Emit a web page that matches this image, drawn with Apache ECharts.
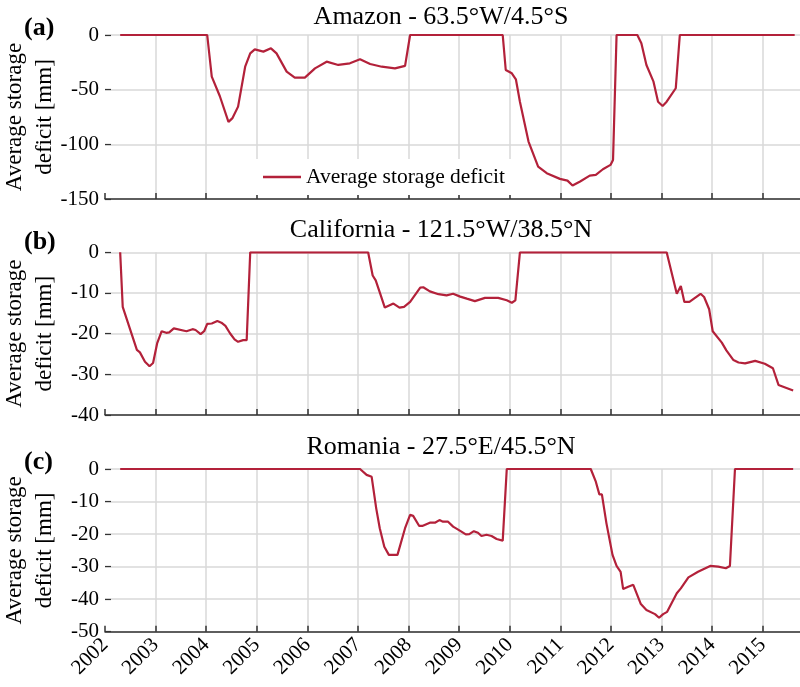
<!DOCTYPE html>
<html><head><meta charset="utf-8">
<script src="https://cdn.jsdelivr.net/npm/echarts/dist/echarts.min.js"></script>
<style>html,body{margin:0;padding:0;background:#fff}#c{width:800px;height:687px}</style>
</head><body><div id="c"></div><script>
// ---- data (decimal years / storage deficit in mm) ----
const yearTicks = [2002,2003,2004,2005,2006,2007,2008,2009,2010,2011,2012,2013,2014,2015];

const amazonTime = [2002.30,2004.02,2004.11,2004.27,2004.44,2004.52,2004.63,2004.77,2004.87,2004.96,
  2005.13,2005.28,2005.39,2005.59,2005.75,2005.95,2006.15,2006.38,2006.61,2006.84,
  2007.04,2007.24,2007.47,2007.73,2007.93,2008.03,2009.86,2009.92,2010.04,2010.12,
  2010.20,2010.37,2010.56,2010.73,2010.99,2011.14,2011.24,2011.39,2011.58,2011.70,
  2011.84,2011.99,2012.04,2012.11,2012.52,2012.60,2012.70,2012.84,2012.93,2013.02,
  2013.10,2013.28,2013.36,2015.63];
const amazonDeficit = [0,0,-38,-56,-79.5,-76,-65.5,-29,-16.8,-13.1,
  -15.2,-12.2,-16.8,-33.5,-39,-39,-30.5,-24.4,-27.4,-25.9,
  -22.2,-26.5,-29,-30.5,-28.3,0,0,-32,-35,-40.5,
  -61,-97.5,-120.4,-126.4,-131.6,-133.2,-137.7,-134,-128.6,-128,
  -122.8,-118.8,-114.3,0,0,-7.6,-27.4,-42.7,-61,-64.9,
  -61,-48.7,0,0];

const californiaTime = [2002.30,2002.35,2002.49,2002.63,2002.69,2002.79,2002.88,2002.95,2003.03,2003.12,
  2003.21,2003.27,2003.36,2003.61,2003.73,2003.79,2003.89,2003.96,2004.02,2004.11,
  2004.22,2004.30,2004.38,2004.47,2004.56,2004.63,2004.73,2004.80,2004.87,2007.20,
  2007.29,2007.35,2007.45,2007.53,2007.70,2007.82,2007.91,2008.03,2008.23,2008.29,
  2008.42,2008.59,2008.75,2008.88,2009.02,2009.15,2009.31,2009.51,2009.77,2009.94,
  2010.04,2010.11,2010.20,2013.10,2013.30,2013.38,2013.45,2013.55,2013.77,2013.84,
  2013.94,2014.01,2014.19,2014.28,2014.42,2014.52,2014.65,2014.85,2015.04,2015.20,
  2015.31,2015.60];
const californiaDeficit = [0,-13.4,-18.7,-24,-24.6,-26.9,-28,-27.2,-22.4,-19.4,
  -19.8,-19.7,-18.7,-19.4,-18.9,-19.1,-20.1,-19.4,-17.6,-17.5,
  -16.9,-17.3,-18.1,-19.9,-21.4,-22,-21.6,-21.6,0,0,
  -5.7,-6.9,-10.6,-13.6,-12.6,-13.6,-13.4,-12.2,-8.7,-8.6,
  -9.6,-10.3,-10.6,-10.2,-10.9,-11.4,-12,-11.2,-11.2,-11.8,
  -12.4,-11.8,0,0,-10.2,-8.3,-12.2,-12.2,-10.2,-11,
  -14,-19.4,-22.2,-24.1,-26.5,-27.1,-27.3,-26.7,-27.4,-28.5,
  -32.6,-34];

const romaniaTime = [2002.30,2007.04,2007.17,2007.27,2007.36,2007.43,2007.52,2007.61,2007.78,2007.93,
  2008.03,2008.09,2008.21,2008.27,2008.42,2008.52,2008.61,2008.68,2008.78,2008.88,
  2009.02,2009.13,2009.20,2009.29,2009.37,2009.44,2009.54,2009.64,2009.74,2009.86,
  2009.94,2011.60,2011.70,2011.77,2011.82,2011.91,2012.03,2012.11,2012.19,2012.24,
  2012.34,2012.44,2012.59,2012.70,2012.87,2012.95,2013.03,2013.11,2013.30,2013.38,
  2013.53,2013.72,2013.96,2014.12,2014.27,2014.35,2014.45,2015.60];
const romaniaDeficit = [0,0,-1.8,-2.4,-12.1,-18.2,-23.9,-26.4,-26.4,-18.2,
  -14.1,-14.4,-17.5,-17.5,-16.5,-16.5,-15.7,-16.2,-16.2,-17.7,
  -19,-20.1,-20,-19.1,-19.6,-20.6,-20.2,-20.6,-21.5,-22,
  0,0,-3.9,-7.8,-7.8,-16.7,-26.4,-29.8,-31.6,-36.9,
  -36.2,-35.6,-41.5,-43.3,-44.6,-45.7,-44.6,-43.9,-38.2,-36.7,
  -33.3,-31.6,-29.8,-30,-30.5,-29.8,0,0];

const panelTitles = ['Amazon - 63.5°W/4.5°S', 'California - 121.5°W/38.5°N', 'Romania - 27.5°E/45.5°N'];
const panelLabels = ['(a)', '(b)', '(c)'];
const yMins = [-150, -40, -50];
const yIntervals = [50, 10, 10];
const seriesName = 'Average storage deficit';
const yName = 'Average storage\ndeficit [mm]';

// ---- chart ----
const FONT = '"Liberation Serif", "Times New Roman", Times, serif';
const RED = '#b3213a';
const GRID_COLOR = '#d9d9d9';
const zip = (a, b) => a.map((t, i) => [t, b[i]]);
const seriesData = [zip(amazonTime, amazonDeficit), zip(californiaTime, californiaDeficit), zip(romaniaTime, romaniaDeficit)];

const grids = [
  {left: 105, right: -13.4, top: 35, height: 164, outerBoundsMode: 'none', containLabel: false},
  {left: 105, right: -13.4, top: 252.3, height: 162.7, outerBoundsMode: 'none', containLabel: false},
  {left: 105, right: -13.4, top: 469, height: 162.7, outerBoundsMode: 'none', containLabel: false}
];
const titleTops = [4, 217, 434];
const labelTops = [15, 229, 449];

const option = {
  animation: false,
  backgroundColor: '#fff',
  title: panelTitles.map((t, i) => ({
    text: t, left: 441, top: titleTops[i], textAlign: 'center', padding: 0,
    textStyle: {fontFamily: FONT, fontSize: 26, fontWeight: 'normal', color: '#000'}
  })).concat(panelLabels.map((t, i) => ({
    text: t, left: 24, top: labelTops[i], padding: 0,
    textStyle: {fontFamily: FONT, fontSize: 26, fontWeight: 'bold', color: '#000'}
  }))),
  graphic: grids.map(g => ({
    type: 'text', x: 30, y: g.top + g.height / 2, rotation: Math.PI / 2, silent: true,
    style: {text: yName, fontFamily: FONT, fontSize: 23, lineHeight: 30, fill: '#000',
            align: 'center', verticalAlign: 'middle'}
  })),
  legend: {
    data: [seriesName], left: 255, top: 159, backgroundColor: '#fff',
    padding: [7, 8, 7, 8], icon: 'rect', itemWidth: 38, itemHeight: 2.4, itemGap: 8,
    textStyle: {fontFamily: FONT, fontSize: 21.5, color: '#000'}
  },
  grid: grids,
  xAxis: grids.map((g, i) => ({
    type: 'value', gridIndex: i, min: 2002, max: 2016, interval: 1,
    axisLine: {show: true, onZero: false, lineStyle: {color: '#333', width: 1.5}},
    axisTick: {show: true, inside: true, length: 6, lineStyle: {color: '#333', width: 1.5}},
    splitLine: {show: true, showMinLine: false, lineStyle: {color: GRID_COLOR, width: 1.5}},
    axisLabel: {
      show: i === 2, rotate: 45, margin: 10, fontFamily: FONT, fontSize: 21, color: '#000',
      formatter: v => (yearTicks.indexOf(v) >= 0 ? String(v) : '')
    }
  })),
  yAxis: grids.map((g, i) => ({
    type: 'value', gridIndex: i, min: yMins[i], max: 0, interval: yIntervals[i],
    axisLine: {show: false},
    axisTick: {show: true, inside: true, length: 6, lineStyle: {color: '#333', width: 1.2}},
    splitLine: {show: true, lineStyle: {color: GRID_COLOR, width: 1.5}},
    axisLabel: {margin: 6, fontFamily: FONT, fontSize: 21, color: '#000'}
  })),
  series: seriesData.map((d, i) => ({
    type: 'line', name: seriesName, xAxisIndex: i, yAxisIndex: i, data: d,
    symbol: 'none', showSymbol: false,
    lineStyle: {color: RED, width: 2.2}, itemStyle: {color: RED}
  }))
};
const chart = echarts.init(document.getElementById('c'), null, {renderer: 'canvas'});
chart.setOption(option);
</script></body></html>
